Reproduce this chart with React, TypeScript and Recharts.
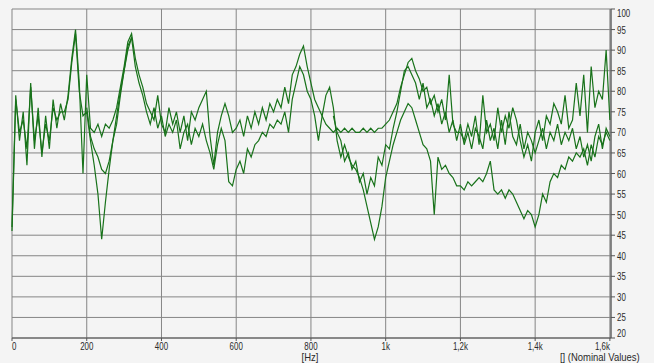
import { LineChart, Line, XAxis, YAxis, CartesianGrid } from "recharts";

// frequency bins are 10 Hz apart, starting at 0 Hz
const BIN_HZ = 10;

// upper trace (0 .. 1600 Hz)
const traceA = [
    47, 79, 68, 75, 62, 82, 66, 76, 64, 74,
    66, 78, 71, 77, 73, 79, 88, 95, 82, 60,
    84, 71, 70, 72, 69, 72, 71, 73, 76, 81,
    86, 92, 94, 88, 84, 81, 77, 75, 73, 79,
    72, 70, 76, 72, 75, 70, 74, 68, 75, 73,
    76, 78, 80, 69, 62, 70, 74, 77, 74, 70,
    71, 73, 69, 74, 71, 75, 72, 76, 73, 77,
    75, 78, 76, 81, 77, 84, 86, 89, 91, 86,
    82, 78, 76, 74, 72, 71, 70, 71, 70, 71,
    70, 71, 70, 70, 71, 70, 71, 70, 71, 71,
    72, 73, 75, 77, 81, 84, 87, 88, 85, 83,
    80, 81, 77, 79, 75, 78, 73, 84, 72, 70,
    70, 68, 72, 69, 74, 67, 79, 70, 72, 68,
    76, 70, 74, 71, 76, 73, 68, 64, 67, 63,
    70, 73, 68, 74, 72, 77, 75, 72, 79, 71,
    73, 82, 74, 84, 70, 86, 76, 80, 78, 90,
    73,
];

// lower trace (0 .. 1600 Hz)
const traceB = [
    46, 78, 70, 73, 66, 81, 68, 74, 65, 72,
    68, 76, 73, 75, 75, 78, 87, 94, 80, 74,
    75, 68, 62, 55, 44, 53, 61, 68, 74, 80,
    85, 91, 93, 86, 82, 79, 75, 72, 76, 71,
    74, 69, 72, 70, 73, 66, 70, 72, 67, 71,
    69, 72, 68, 65, 61, 67, 71, 68, 58, 57,
    61, 63, 60, 66, 64, 67, 68, 70, 69, 72,
    71, 73, 72, 75, 70, 78, 82, 86, 84, 80,
    78, 74, 68, 74, 79, 81, 76, 68, 64, 67,
    64, 62, 61, 59, 56, 52, 48, 44, 47, 52,
    59, 63, 67, 70, 73, 75, 77, 76, 73, 70,
    67, 66, 63, 50, 64, 61, 62, 60, 59, 57,
    57, 56, 58, 57, 58, 59, 58, 60, 63, 56,
    55, 56, 54, 56, 55, 53, 51, 49, 51, 50,
    47, 50, 55, 53, 58, 60, 59, 62, 61, 64,
    63, 65, 64, 66, 62, 67, 64, 69, 67, 70,
    68,
];

// third trace, only where it leaves the other two
const traceCLowStart = 200;
const traceCLow = [76, 69, 66, 64, 61, 60, 63, 68, 72, 79, 85, 90, 93];
const traceCHighStart = 860;
const traceCHigh = [
    74, 70, 68, 63, 65, 61, 63, 58, 60, 55,
    59, 57, 64, 62, 67, 66, 71, 75, 80, 85,
    86, 84, 82, 78, 82, 76, 78, 74, 77, 72,
    75, 70, 73, 68, 72, 67, 70, 66, 71, 69,
    66, 73, 68, 71, 66, 73, 67, 75, 69, 67,
    72, 66, 70, 68, 65, 68, 71, 66, 70, 68,
    72, 67, 70, 68, 71, 66, 69, 64, 67, 63,
    69, 72, 66, 71, 69,
];

const xTicks = [0, 200, 400, 600, 800, 1000, 1200, 1400, 1600];
const xTickLabels = ["0", "200", "400", "600", "800", "1k", "1,2k", "1,4k", "1,6k"];
const yTicks = [20, 25, 30, 35, 40, 45, 50, 55, 60, 65, 70, 75, 80, 85, 90, 95, 100];

const FONT = "'Liberation Sans', Arial, sans-serif";
const DIGIT_SQUEEZE = 0.72;
const NOTE_SQUEEZE = 0.86;
const GREEN = "#18721a";
const TEXT = "#2a2a2a";

function pick(arr: number[], start: number, hz: number) {
    const i = (hz - start) / BIN_HZ;
    return i >= 0 && i < arr.length ? arr[i] : null;
}

const rows = traceA.map((a, i) => {
    const hz = i * BIN_HZ;
    const c = pick(traceCLow, traceCLowStart, hz) ?? pick(traceCHigh, traceCHighStart, hz);
    return { hz, a, b: traceB[i], c };
});

// narrow bitmap-like labels: squeeze the glyphs horizontally
function XTick(props: any) {
    const { x, y, payload } = props;
    const i = xTicks.indexOf(payload.value);
    const anchor = i === 0 ? "start" : i === xTicks.length - 1 ? "end" : "middle";
    return (
        <text
            transform={`translate(${x},${y + 8.5}) scale(${DIGIT_SQUEEZE},1)`}
            textAnchor={anchor}
            fontSize={11}
            fontFamily={FONT}
            fill={TEXT}
        >
            {xTickLabels[i]}
        </text>
    );
}

function YTick(props: any) {
    const { x, y, payload } = props;
    let shift = 4;
    if (payload.value === 20) shift = -1.5;
    if (payload.value === 100) shift = 7.5;
    return (
        <text
            transform={`translate(${x},${y + shift}) scale(${DIGIT_SQUEEZE},1)`}
            textAnchor="start"
            fontSize={11}
            fontFamily={FONT}
            fill={TEXT}
        >
            {payload.value}
        </text>
    );
}

export default function App() {
    const noteStyle = {
        position: "absolute" as const,
        top: 352,
        fontSize: 11,
        lineHeight: "11px",
        color: TEXT,
        fontFamily: FONT,
        whiteSpace: "nowrap" as const,
    };
    return (
        <div style={{ position: "absolute", left: 0, top: 0, width: 654, height: 363, background: "#f4f4f4" }}>
            <LineChart width={654} height={363} data={rows} margin={{ top: 9, right: 0, bottom: 0, left: 12 }}>
                <CartesianGrid stroke="#858585" />
                <XAxis
                    dataKey="hz"
                    type="number"
                    domain={[0, 1603]}
                    ticks={xTicks}
                    interval={0}
                    height={25}
                    tickSize={3}
                    tickMargin={0}
                    axisLine={{ stroke: "#555" }}
                    tickLine={{ stroke: "#555" }}
                    tick={<XTick />}
                />
                <YAxis
                    orientation="right"
                    type="number"
                    domain={[20, 100]}
                    ticks={yTicks}
                    interval={0}
                    width={43}
                    tickSize={4}
                    tickMargin={2}
                    axisLine={{ stroke: "#555" }}
                    tickLine={{ stroke: "#555" }}
                    tick={<YTick />}
                />
                <Line dataKey="c" stroke={GREEN} strokeWidth={1.2} dot={false} connectNulls={false} isAnimationActive={false} />
                <Line dataKey="b" stroke={GREEN} strokeWidth={1.2} dot={false} isAnimationActive={false} />
                <Line dataKey="a" stroke={GREEN} strokeWidth={1.2} dot={false} isAnimationActive={false} />
            </LineChart>
            <div style={{ ...noteStyle, left: 310, transform: `translateX(-50%) scaleX(${NOTE_SQUEEZE})` }}>[Hz]</div>
            <div style={{ ...noteStyle, right: 14, transform: `scaleX(${NOTE_SQUEEZE})`, transformOrigin: "right center" }}>
                [] (Nominal Values)
            </div>
        </div>
    );
}
